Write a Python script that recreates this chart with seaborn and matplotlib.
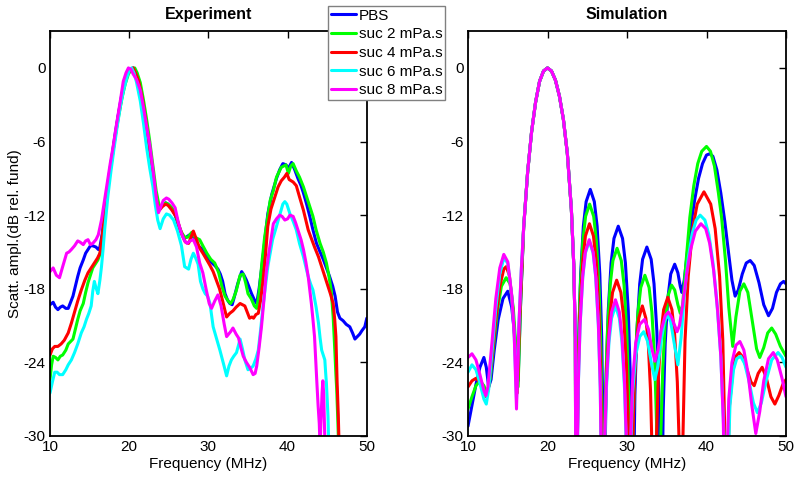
import numpy as np
import pandas as pd
import matplotlib
matplotlib.use("Agg")
import matplotlib.pyplot as plt
from matplotlib.lines import Line2D
import seaborn as sns

# Legend labels and MATLAB-style colours
labels = ['PBS', 'suc 2 mPa.s', 'suc 4 mPa.s', 'suc 6 mPa.s', 'suc 8 mPa.s']
colors = ['#0000ff', '#00ff00', '#ff0000', '#00ffff', '#ff00ff']

# ---------------- Experiment ----------------
exp_pbs_f = [10.0, 10.4, 10.7, 11.0, 11.3, 11.6, 12.0, 12.3, 12.6, 12.9,
             13.2, 13.5, 13.8, 14.2, 14.5, 14.8, 15.1, 15.4, 15.8, 16.1,
             16.3, 16.6, 17.0, 17.4, 17.8, 18.2, 18.6, 19.0, 19.4, 19.8,
             20.2, 20.5, 20.8, 21.2, 21.6, 22.0, 22.4, 22.8, 23.2, 23.5,
             23.8, 24.2, 24.6, 24.9, 25.4, 25.8, 26.2, 26.6, 27.0, 27.4,
             27.9, 28.3, 28.7, 29.1, 29.5, 29.9, 30.3, 30.8, 31.2, 31.5,
             31.8, 32.1, 32.4, 32.7, 33.0, 33.3, 33.7, 34.2, 34.5, 34.8,
             35.1, 35.45, 35.8, 36.1, 36.4, 36.9, 37.2, 37.5, 38.0, 38.6,
             39.0, 39.4, 39.8, 40.1, 40.5, 40.9, 41.3, 41.7, 42.0, 42.4,
             42.8, 43.2, 43.65, 44.1, 44.5, 44.9, 45.3, 45.7, 46.0, 46.3,
             46.6, 47.0, 47.4, 47.85, 48.2, 48.5, 48.8, 49.1, 49.4, 49.75,
             50.0]
exp_pbs_db = [-19.3, -19.1, -19.5, -19.7, -19.5, -19.4, -19.6, -19.6, -19.1, -18.6,
              -17.8, -17.0, -16.3, -15.65, -15.1, -14.8, -14.5, -14.5, -14.6, -14.8,
              -14.6, -13.5, -11.0, -9.0, -7.3, -5.5, -3.9, -2.4, -1.2, -0.4,
              -0.1, 0.0, -0.3, -1.0, -2.4, -4.0, -5.8, -7.8, -9.8, -11.0,
              -11.5, -11.2, -11.0, -11.1, -11.5, -12.0, -12.8, -13.5, -13.9, -13.7,
              -13.5, -14.0, -14.5, -14.7, -15.1, -15.5, -15.8, -16.1, -16.4, -16.8,
              -17.4, -18.4, -18.9, -19.2, -19.3, -18.6, -17.6, -16.6, -16.9, -17.3,
              -17.8, -18.4, -18.9, -19.2, -18.0, -15.4, -13.6, -11.9, -10.3, -9.0,
              -8.3, -7.8, -7.9, -8.2, -7.7, -8.3, -9.0, -9.6, -10.2, -11.1,
              -12.1, -13.2, -14.3, -15.0, -15.6, -16.3, -17.0, -17.8, -18.6, -19.9,
              -20.4, -20.6, -20.9, -21.1, -21.6, -22.1, -21.9, -21.7, -21.4, -21.1,
              -20.4]

exp_suc2_f = [10.0, 10.2, 10.4, 10.7, 11.0, 11.3, 11.6, 12.0, 12.3, 12.6,
              12.9, 13.2, 13.5, 13.8, 14.2, 14.5, 14.8, 15.1, 15.4, 15.7,
              16.05, 16.3, 16.5, 16.8, 17.1, 17.5, 17.9, 18.3, 18.7, 19.1,
              19.5, 19.9, 20.3, 20.7, 21.0, 21.4, 21.8, 22.2, 22.6, 23.0,
              23.4, 23.8, 24.2, 24.6, 24.9, 25.4, 25.8, 26.2, 26.6, 27.0,
              27.4, 27.9, 28.3, 28.9, 29.3, 29.8, 30.3, 30.8, 31.3, 31.7,
              32.1, 32.5, 32.8, 33.1, 33.5, 34.0, 34.4, 34.7, 35.0, 35.4,
              35.8, 36.1, 36.4, 36.8, 37.1, 37.5, 37.8, 38.2, 38.6, 39.2,
              39.8, 40.1, 40.4, 40.7, 41.1, 41.5, 42.0, 42.4, 42.8, 43.2,
              43.6, 44.1, 44.5, 44.9, 45.2, 45.5, 45.75, 45.96, 46.1, 46.2,
              46.35, 46.5]
exp_suc2_db = [-25.4, -24.2, -23.5, -23.6, -23.8, -23.5, -23.4, -23.0, -22.5, -22.3,
               -22.1, -21.3, -20.5, -19.8, -19.2, -18.3, -17.5, -16.9, -16.3, -16.0,
               -15.65, -15.2, -14.6, -12.4, -10.6, -8.8, -7.0, -5.3, -3.8, -2.4,
               -1.3, -0.5, -0.1, 0.0, -0.4, -1.2, -2.6, -4.2, -6.0, -8.0,
               -10.0, -11.3, -11.2, -11.0, -11.1, -11.4, -11.9, -12.7, -13.4, -13.8,
               -13.8, -13.4, -13.8, -14.0, -14.5, -15.1, -15.6, -15.9, -16.7, -17.8,
               -18.6, -19.0, -19.2, -18.9, -18.2, -16.9, -16.8, -17.5, -18.4, -18.8,
               -19.4, -19.6, -18.3, -15.6, -13.8, -12.1, -10.8, -10.0, -8.9, -8.1,
               -7.9, -8.6, -8.0, -7.8, -8.4, -8.9, -9.7, -10.5, -11.3, -12.1,
               -13.2, -14.3, -15.0, -15.9, -16.9, -18.1, -20.25, -23.0, -25.0, -26.2,
               -28.9, -32.0]

exp_suc4_f = [10.0, 10.3, 10.6, 11.0, 11.4, 11.8, 12.3, 12.7, 13.1, 13.5,
              13.95, 14.4, 14.8, 15.2, 15.6, 16.0, 16.3, 16.7, 17.0, 17.4,
              17.8, 18.2, 18.6, 19.0, 19.4, 19.8, 20.2, 20.5, 20.8, 21.2,
              21.6, 22.0, 22.4, 22.8, 23.2, 23.5, 23.8, 24.2, 24.6, 24.9,
              25.4, 26.0, 26.4, 26.8, 27.1, 27.5, 27.8, 28.1, 28.5, 28.9,
              29.3, 29.8, 30.2, 30.6, 31.0, 31.4, 31.8, 32.1, 32.3, 32.7,
              33.1, 33.5, 34.0, 34.3, 34.6, 34.9, 35.2, 35.5, 35.7, 36.0,
              36.3, 36.6, 36.9, 37.2, 37.5, 37.9, 38.4, 38.8, 39.2, 39.6,
              39.9, 40.2, 40.7, 41.1, 41.5, 42.0, 42.6, 43.0, 43.4, 43.9,
              44.3, 44.7, 45.1, 45.4, 45.75, 45.95, 46.1, 46.25, 46.4, 46.55]
exp_suc4_db = [-23.4, -22.9, -22.7, -22.7, -22.5, -22.2, -21.6, -20.8, -19.9, -19.0,
               -18.1, -17.3, -16.7, -16.3, -15.9, -15.5, -15.1, -13.2, -11.2, -9.3,
               -7.5, -5.7, -4.0, -2.6, -1.3, -0.5, -0.1, 0.0, -0.4, -1.1,
               -2.3, -3.9, -5.7, -7.6, -9.6, -11.0, -11.6, -11.3, -11.1, -11.2,
               -11.6, -12.2, -13.1, -13.8, -14.2, -14.3, -13.8, -13.3, -14.0, -14.7,
               -15.1, -15.65, -16.1, -16.6, -17.3, -18.0, -19.0, -19.8, -20.3, -20.0,
               -19.8, -19.5, -19.2, -19.3, -19.4, -19.9, -20.4, -20.3, -20.4, -20.1,
               -20.0, -18.9, -17.3, -15.3, -12.9, -11.5, -10.5, -9.7, -9.2, -8.9,
               -8.6, -9.1, -9.3, -9.6, -10.5, -11.6, -13.2, -13.9, -14.6, -15.4,
               -16.2, -17.0, -17.8, -18.4, -19.2, -20.5, -21.9, -25.6, -28.3, -32.0]

exp_suc6_f = [10.0, 10.3, 10.6, 10.9, 11.2, 11.6, 12.0, 12.3, 12.7, 13.1,
              13.5, 13.95, 14.3, 14.6, 14.9, 15.2, 15.4, 15.6, 15.8, 16.05,
              16.3, 16.5, 16.7, 16.9, 17.3, 17.7, 18.1, 18.5, 18.9, 19.3,
              19.7, 20.0, 20.3, 20.6, 20.9, 21.4, 21.8, 22.2, 22.6, 23.0,
              23.3, 23.6, 23.9, 24.3, 24.7, 25.1, 25.6, 26.1, 26.6, 27.0,
              27.5, 27.8, 28.1, 28.4, 28.7, 29.0, 29.3, 29.6, 29.9, 30.2,
              30.6, 31.0, 31.45, 31.9, 32.3, 32.6, 32.9, 33.2, 33.55, 33.8,
              34.0, 34.3, 34.6, 35.0, 35.3, 35.65, 36.0, 36.3, 36.6, 36.9,
              37.2, 37.5, 37.8, 38.1, 38.6, 39.0, 39.4, 39.65, 39.9, 40.3,
              40.7, 41.1, 41.5, 42.0, 42.3, 42.6, 42.9, 43.2, 43.6, 43.9,
              44.1, 44.3, 44.5, 44.7, 44.8, 44.9, 45.0, 45.1, 45.2]
exp_suc6_db = [-26.5, -25.6, -24.8, -24.8, -25.0, -25.0, -24.6, -24.2, -23.8, -23.2,
               -22.5, -21.6, -21.1, -20.5, -20.0, -19.4, -18.2, -17.4, -17.9, -18.4,
               -17.3, -16.2, -14.8, -13.2, -10.5, -8.4, -6.5, -4.7, -3.1, -1.8,
               -0.8, -0.2, 0.0, -0.4, -1.1, -2.7, -4.5, -6.5, -8.2, -9.7,
               -11.2, -12.4, -13.1, -12.3, -11.9, -12.0, -12.4, -13.3, -14.5, -16.2,
               -16.4, -15.6, -15.1, -15.5, -16.0, -17.4, -18.0, -18.4, -18.6, -19.2,
               -21.1, -22.0, -23.0, -24.1, -25.1, -24.3, -23.8, -23.5, -23.2, -22.6,
               -22.1, -22.9, -23.8, -24.6, -24.5, -24.3, -23.7, -23.0, -21.3, -19.4,
               -17.8, -16.2, -15.1, -14.0, -12.9, -12.0, -11.1, -10.9, -11.1, -11.9,
               -12.5, -13.2, -14.3, -15.4, -16.2, -17.0, -17.6, -18.1, -19.5, -20.8,
               -22.0, -23.0, -23.4, -23.8, -24.8, -25.7, -27.0, -28.4, -31.0]

exp_suc8_f = [10.0, 10.4, 10.8, 11.2, 11.6, 12.1, 12.4, 12.7, 13.1, 13.5,
              13.8, 14.2, 14.5, 14.8, 15.1, 15.4, 15.8, 16.1, 16.5, 17.1,
              17.6, 18.0, 18.3, 18.6, 18.9, 19.25, 19.6, 19.9, 20.2, 20.5,
              20.9, 21.4, 21.8, 22.2, 22.6, 23.0, 23.4, 23.7, 24.0, 24.3,
              24.7, 25.0, 25.4, 25.8, 26.2, 26.6, 27.0, 27.3, 27.7, 28.1,
              28.5, 28.9, 29.3, 29.7, 30.1, 30.4, 30.8, 31.2, 31.6, 32.0,
              32.3, 32.8, 33.1, 33.5, 33.8, 34.1, 34.4, 34.8, 35.2, 35.65,
              35.9, 36.1, 36.4, 36.7, 37.0, 37.3, 37.6, 37.9, 38.2, 38.6,
              39.0, 39.3, 39.65, 40.0, 40.3, 40.7, 41.0, 41.3, 41.7, 42.0,
              42.3, 42.6, 42.8, 43.0, 43.2, 43.4, 43.55, 43.7, 43.85, 44.0,
              44.1, 44.2, 44.35, 44.45, 44.55, 44.65, 44.75]
exp_suc8_db = [-16.6, -16.3, -16.9, -17.1, -16.2, -15.1, -15.0, -14.8, -14.5, -14.1,
               -14.2, -14.4, -14.1, -14.0, -14.4, -14.3, -14.0, -13.6, -12.4, -9.9,
               -7.8, -6.3, -5.0, -3.8, -2.6, -1.1, -0.4, 0.0, -0.1, -0.5,
               -0.9, -1.8, -3.2, -4.8, -6.3, -8.3, -10.5, -11.8, -11.3, -10.8,
               -10.6, -10.7, -11.0, -11.4, -12.6, -13.5, -14.1, -14.3, -14.1, -14.0,
               -14.6, -15.9, -16.7, -18.0, -19.2, -19.6, -19.0, -18.5, -19.4, -20.9,
               -21.9, -21.5, -21.2, -21.7, -22.0, -22.8, -23.5, -24.0, -24.4, -25.0,
               -24.9, -24.3, -22.8, -21.1, -19.0, -16.7, -15.2, -14.0, -12.7, -12.3,
               -12.0, -12.1, -12.4, -12.3, -12.0, -12.1, -12.6, -13.2, -14.0, -14.8,
               -15.8, -17.0, -18.1, -19.2, -20.5, -21.9, -23.8, -25.7, -27.5, -29.0,
               -31.0, -29.0, -26.5, -25.5, -26.5, -29.0, -31.5]

# ---------------- Simulation ----------------
sim_pbs_f = [10.0, 10.5, 11.0, 11.5, 12.0, 12.3, 12.6, 12.9, 13.3, 13.8,
             14.4, 15.0, 15.5, 15.9, 16.3, 16.6, 17.0, 17.5, 18.0, 18.5,
             19.0, 19.5, 20.0, 20.5, 21.0, 21.5, 22.0, 22.5, 23.0, 23.3, 23.5,
             23.65, 23.75, 23.93, 24.17, 24.51, 24.86, 25.38, 25.89, 26.24, 26.58, 26.82, 27.0,
             27.1, 27.21, 27.39, 27.64, 28.0, 28.36, 28.9, 29.44, 29.8, 30.16, 30.41, 30.59,
             30.7, 30.81, 30.99, 31.24, 31.6, 31.96, 32.5, 33.04, 33.4, 33.76, 34.01, 34.19,
             34.3, 34.4, 34.55, 34.8, 35.1, 35.5, 36.0, 36.4, 36.7, 36.9,
             37.2, 37.6, 38.0, 38.5, 39.0, 39.5, 40.0, 40.4, 40.8, 41.3,
             41.8, 42.3, 42.8, 43.2, 43.6, 44.0, 44.5, 45.0, 45.5, 46.0,
             46.6, 47.2, 47.8, 48.3, 48.8, 49.3, 49.7, 50.0]
sim_pbs_db = [-29.2, -27.5, -25.8, -24.4, -23.6, -24.4, -26.0, -25.4, -23.0, -20.5,
              -18.8, -18.2, -19.5, -22.0, -25.5, -19.5, -13.0, -8.5, -5.2, -2.8,
              -1.1, -0.25, 0.0, -0.25, -1.0, -2.3, -4.2, -7.0, -11.5, -16.0, -22.0,
              -45, -30.4, -22.0, -16.8, -12.9, -10.9, -9.9, -10.9, -12.9, -16.8, -22.0, -30.4,
              -45, -33.4, -25.0, -19.8, -15.9, -13.9, -12.9, -13.9, -15.9, -19.8, -25.0, -33.4,
              -45, -35.1, -26.7, -21.5, -17.6, -15.6, -14.6, -15.6, -17.6, -21.5, -26.7, -35.1,
              -45, -36.0, -28.0, -22.5, -19.0, -16.8, -16.0, -16.7, -17.8, -18.3,
              -17.3, -15.0, -12.9, -10.8, -9.0, -7.8, -7.1, -7.0, -7.2, -8.3,
              -10.2, -12.5, -15.2, -17.3, -18.6, -18.1, -16.8, -15.9, -15.7, -16.1,
              -17.5, -19.3, -20.2, -19.6, -18.3, -17.6, -17.4, -17.6]

sim_suc2_f = [10.0, 10.5, 11.0, 11.5, 12.0, 12.4, 12.8, 13.2, 13.7, 14.2,
              14.8, 15.3, 15.7, 16.0, 16.3, 16.6, 17.0, 17.5, 18.0, 18.5,
              19.0, 19.5, 20.0, 20.5, 21.0, 21.5, 22.0, 22.5, 23.0, 23.3, 23.5,
              23.6, 23.7, 23.87, 24.11, 24.45, 24.79, 25.3, 25.81, 26.15, 26.49, 26.73, 26.9,
              27.0, 27.1, 27.28, 27.53, 27.88, 28.23, 28.75, 29.28, 29.63, 29.98, 30.22, 30.4,
              30.5, 30.6, 30.78, 31.03, 31.38, 31.73, 32.25, 32.78, 33.13, 33.48, 33.72, 33.9,
              34.0, 34.1, 34.25, 34.5, 34.8, 35.2, 35.6, 36.0, 36.4, 36.7,
              37.0, 37.4, 37.9, 38.4, 38.9, 39.4, 40.0, 40.5, 41.0, 41.5,
              41.9, 42.4, 42.8, 43.3, 43.7, 44.2, 44.7, 45.2, 45.8, 46.3,
              46.7, 47.2, 47.7, 48.2, 48.7, 49.3, 50.0]
sim_suc2_db = [-27.8, -26.8, -25.9, -25.5, -25.9, -26.6, -25.3, -22.8, -19.8, -17.8,
               -17.1, -17.6, -19.6, -22.5, -26.0, -19.5, -13.0, -8.5, -5.2, -2.8,
               -1.1, -0.25, 0.0, -0.25, -1.0, -2.3, -4.2, -7.0, -11.5, -16.0, -22.0,
               -45, -31.6, -23.2, -18.0, -14.1, -12.1, -11.1, -12.1, -14.1, -18.0, -23.2, -31.6,
               -45, -35.2, -26.8, -21.6, -17.7, -15.7, -14.7, -15.7, -17.7, -21.6, -26.8, -35.2,
               -45, -37.4, -29.0, -23.8, -19.9, -17.9, -16.9, -17.9, -19.9, -23.8, -29.0, -37.4,
               -45, -38.0, -30.0, -24.5, -20.8, -18.5, -17.7, -18.1, -19.3, -20.0,
               -19.3, -16.0, -12.2, -9.6, -7.8, -6.8, -6.4, -6.8, -8.0, -10.2,
               -12.2, -15.8, -19.5, -22.7, -20.3, -18.2, -17.6, -18.3, -20.8, -22.9,
               -23.6, -22.8, -21.6, -21.2, -21.7, -22.7, -23.5]

sim_suc4_f = [10.0, 10.5, 11.0, 11.5, 12.0, 12.3, 12.6, 13.0, 13.5, 14.0,
              14.5, 14.8, 15.2, 15.6, 15.9, 16.2, 16.5,
              17.0, 17.5, 18.0, 18.5, 19.0, 19.5, 20.0, 20.5, 21.0, 21.5, 22.0, 22.5, 23.0, 23.3, 23.5,
              23.6, 23.7, 23.87, 24.1, 24.44, 24.77, 25.28, 25.78, 26.12, 26.45, 26.68, 26.85,
              26.95, 27.05, 27.23, 27.48, 27.83, 28.18, 28.7, 29.23, 29.58, 29.93, 30.17, 30.35,
              30.45, 30.54, 30.69, 30.89, 31.19, 31.48, 31.93, 32.37, 32.67, 32.96, 33.16, 33.31,
              33.4, 33.5, 33.68, 33.92, 34.26, 34.61, 35.13, 35.65, 35.99, 36.33, 36.57, 36.75,
              36.85, 37.02, 37.3, 37.7, 38.26, 38.83, 39.68, 40.53, 41.09, 41.65, 42.05, 42.33,
              42.5, 42.65, 42.9, 43.3, 43.7, 44.1, 44.6, 45.1, 45.6, 46.0,
              46.5, 47.0, 47.5, 48.1, 48.6, 49.1, 49.6, 50.0]
sim_suc4_db = [-26.0, -25.5, -25.3, -25.6, -26.5, -26.8, -26.0, -23.8, -20.5, -17.8,
               -16.4, -16.2, -16.9, -19.3, -22.5, -26.5, -20.5,
               -13.0, -8.5, -5.2, -2.8, -1.1, -0.25, 0.0, -0.25, -1.0, -2.3, -4.2, -7.0, -11.5, -16.0, -22.0,
               -45, -33.2, -24.8, -19.6, -15.7, -13.7, -12.7, -13.7, -15.7, -19.6, -24.8, -33.2,
               -45, -37.8, -29.4, -24.2, -20.3, -18.3, -17.3, -18.3, -20.3, -24.2, -29.4, -37.8,
               -45, -39.9, -31.5, -26.3, -22.4, -20.4, -19.4, -20.4, -22.4, -26.3, -31.5, -39.9,
               -45, -39.2, -30.8, -25.6, -21.7, -19.7, -18.7, -19.7, -21.7, -25.6, -30.8, -39.2,
               -45, -30.6, -22.2, -17.0, -13.1, -11.1, -10.1, -11.1, -13.1, -17.0, -22.2, -30.6,
               -45, -33.0, -27.5, -24.7, -23.5, -23.2, -23.6, -24.6, -25.6, -25.9,
               -24.9, -24.4, -25.2, -26.8, -27.4, -26.7, -25.8, -25.4]

sim_suc6_f = [10.0, 10.5, 11.0, 11.5, 12.0, 12.3, 12.6, 13.0, 13.5, 14.0,
              14.5, 15.0, 15.5, 15.8, 16.1, 16.4, 16.7,
              17.0, 17.5, 18.0, 18.5, 19.0, 19.5, 20.0, 20.5, 21.0, 21.5, 22.0, 22.5, 23.0, 23.3, 23.5,
              23.6, 23.7, 23.86, 24.1, 24.43, 24.76, 25.25, 25.74, 26.07, 26.4, 26.64, 26.8,
              26.9, 27.0, 27.16, 27.4, 27.73, 28.06, 28.55, 29.04, 29.37, 29.7, 29.94, 30.1,
              30.2, 30.3, 30.45, 30.7, 31.1, 31.6, 32.1, 32.6, 33.1, 33.5,
              33.9, 34.3, 34.7, 35.1, 35.5, 35.9, 36.4, 36.8, 37.2, 37.7,
              38.2, 38.7, 39.2, 39.8, 40.3, 40.8, 41.3, 41.8, 42.2,
              42.55, 42.7, 42.95, 43.4, 43.8, 44.3, 44.8, 45.3, 45.9, 46.4,
              46.9, 47.5, 48.2, 49.0, 49.5, 50.0]
sim_suc6_db = [-24.8, -24.2, -24.6, -25.7, -27.0, -27.4, -26.2, -23.3, -19.6, -16.8,
               -15.5, -15.9, -18.6, -21.5, -27.0, -21.0, -16.5,
               -13.0, -8.5, -5.2, -2.8, -1.1, -0.25, 0.0, -0.25, -1.0, -2.3, -4.2, -7.0, -11.5, -16.0, -22.0,
               -45, -34.6, -26.2, -21.0, -17.1, -15.1, -14.1, -15.1, -17.1, -21.0, -26.2, -34.6,
               -45, -39.9, -31.5, -26.3, -22.4, -20.4, -19.4, -20.4, -22.4, -26.3, -31.5, -39.9,
               -45, -39.0, -31.5, -26.5, -23.4, -21.9, -21.5, -22.3, -24.2, -25.4,
               -24.3, -22.2, -20.7, -20.1, -20.7, -22.3, -24.2, -22.0, -18.6, -15.5,
               -13.5, -12.4, -12.0, -12.4, -13.6, -15.8, -19.0, -23.5, -30.0,
               -45, -33.0, -27.5, -24.6, -23.7, -23.5, -24.1, -25.4, -27.3, -28.1,
               -27.3, -25.5, -23.8, -23.2, -23.6, -24.4]

sim_suc8_f = [10.0, 10.5, 11.0, 11.5, 12.0, 12.25, 12.5, 13.0, 13.5, 14.0,
              14.5, 15.0, 15.5, 15.8, 16.1, 16.4, 16.7,
              17.0, 17.5, 18.0, 18.5, 19.0, 19.5, 20.0, 20.5, 21.0, 21.5, 22.0, 22.5, 23.0, 23.3, 23.5,
              23.6, 23.7, 23.86, 24.1, 24.43, 24.76, 25.25, 25.74, 26.07, 26.4, 26.64, 26.8,
              26.9, 27.0, 27.16, 27.4, 27.73, 28.06, 28.55, 29.04, 29.37, 29.7, 29.94, 30.1,
              30.2, 30.3, 30.45, 30.7, 31.1, 31.6, 32.2, 32.7, 33.1, 33.5,
              33.9, 34.3, 34.8, 35.2, 35.6, 36.0, 36.3, 36.6, 37.0, 37.5,
              38.0, 38.6, 39.3, 39.9, 40.4, 40.9, 41.4, 41.8, 42.1, 42.3,
              42.4, 42.55, 42.8, 43.2, 43.7, 44.2, 44.7, 45.2, 45.7, 46.2,
              46.7, 47.2, 47.8, 48.4, 48.9, 49.5, 50.0]
sim_suc8_db = [-23.6, -23.3, -23.8, -25.0, -26.3, -26.7, -26.0, -22.5, -18.8, -16.3,
               -15.2, -15.8, -18.5, -21.5, -27.8, -21.0, -16.5,
               -13.0, -8.5, -5.2, -2.8, -1.1, -0.25, 0.0, -0.25, -1.0, -2.3, -4.2, -7.0, -11.5, -16.0, -22.0,
               -45, -34.5, -26.1, -20.9, -17.0, -15.0, -14.0, -15.0, -17.0, -20.9, -26.1, -34.5,
               -45, -39.4, -31.0, -25.8, -21.9, -19.9, -18.9, -19.9, -21.9, -25.8, -31.0, -39.4,
               -45, -38.0, -30.5, -25.5, -22.4, -20.9, -20.5, -21.3, -22.8, -23.9,
               -23.0, -21.4, -20.2, -19.9, -20.3, -21.0, -21.5, -21.0, -19.3, -16.8,
               -14.8, -13.3, -12.7, -13.1, -14.3, -16.5, -19.8, -23.5, -28.5, -35.0,
               -45, -33.0, -27.0, -24.0, -22.6, -22.3, -23.0, -24.8, -27.5, -29.8,
               -28.0, -25.5, -23.7, -23.2, -23.8, -25.3, -26.8]

x_ticks = [10, 20, 30, 40, 50]
y_ticks = [-30, -24, -18, -12, -6, 0]


def long_table(series):
    frames = [pd.DataFrame({'freq': f, 'db': d, 'sample': lab}) for lab, f, d in series]
    return pd.concat(frames, ignore_index=True)


exp_df = long_table([
    (labels[0], exp_pbs_f, exp_pbs_db),
    (labels[1], exp_suc2_f, exp_suc2_db),
    (labels[2], exp_suc4_f, exp_suc4_db),
    (labels[3], exp_suc6_f, exp_suc6_db),
    (labels[4], exp_suc8_f, exp_suc8_db),
])
sim_df = long_table([
    (labels[0], sim_pbs_f, sim_pbs_db),
    (labels[1], sim_suc2_f, sim_suc2_db),
    (labels[2], sim_suc4_f, sim_suc4_db),
    (labels[3], sim_suc6_f, sim_suc6_db),
    (labels[4], sim_suc8_f, sim_suc8_db),
])

sns.set_theme(style="white")
plt.rcParams['font.family'] = ['Liberation Sans', 'DejaVu Sans']
plt.rcParams['axes.unicode_minus'] = False
plt.rcParams['text.color'] = 'black'
plt.rcParams['axes.labelcolor'] = 'black'

fig = plt.figure(figsize=(8, 4.78), dpi=100)
ax1 = fig.add_axes([0.0625, 0.0879, 0.396, 0.847])
ax2 = fig.add_axes([0.585, 0.0879, 0.3975, 0.847])

palette = dict(zip(labels, colors))
for ax, df, title in [(ax1, exp_df, 'Experiment'), (ax2, sim_df, 'Simulation')]:
    sns.lineplot(data=df, x='freq', y='db', hue='sample', hue_order=labels,
                 palette=palette, sort=False, estimator=None, linewidth=2.2,
                 legend=False, ax=ax)
    ax.set_xlim(10, 50)
    ax.set_ylim(-30, 3)
    ax.set_xticks(x_ticks)
    ax.set_yticks(y_ticks)
    ax.tick_params(direction='in', top=True, right=True, length=5, width=1,
                   labelsize=11, pad=3, colors='black')
    for s in ax.spines.values():
        s.set_color('black')
        s.set_linewidth(1.3)
    ax.set_title(title, fontweight='bold', fontsize=11.5, pad=9, color='black')
    ax.set_xlabel('Frequency (MHz)', fontsize=11, labelpad=2)
    ax.set_ylabel('')

ax1.set_ylabel('Scatt. ampl.(dB rel. fund)', fontsize=11, labelpad=1)

handles = [Line2D([], [], color=c, linewidth=2.2) for c in colors]
fig.legend(handles, labels, loc='upper left', bbox_to_anchor=(0.41, 0.988),
           frameon=True, fancybox=False, edgecolor='#808080', framealpha=1,
           handlelength=1.6, handletextpad=0.2, borderpad=0.2,
           labelspacing=0.3, fontsize=11, borderaxespad=0)

fig.savefig('out.png', dpi=100)
